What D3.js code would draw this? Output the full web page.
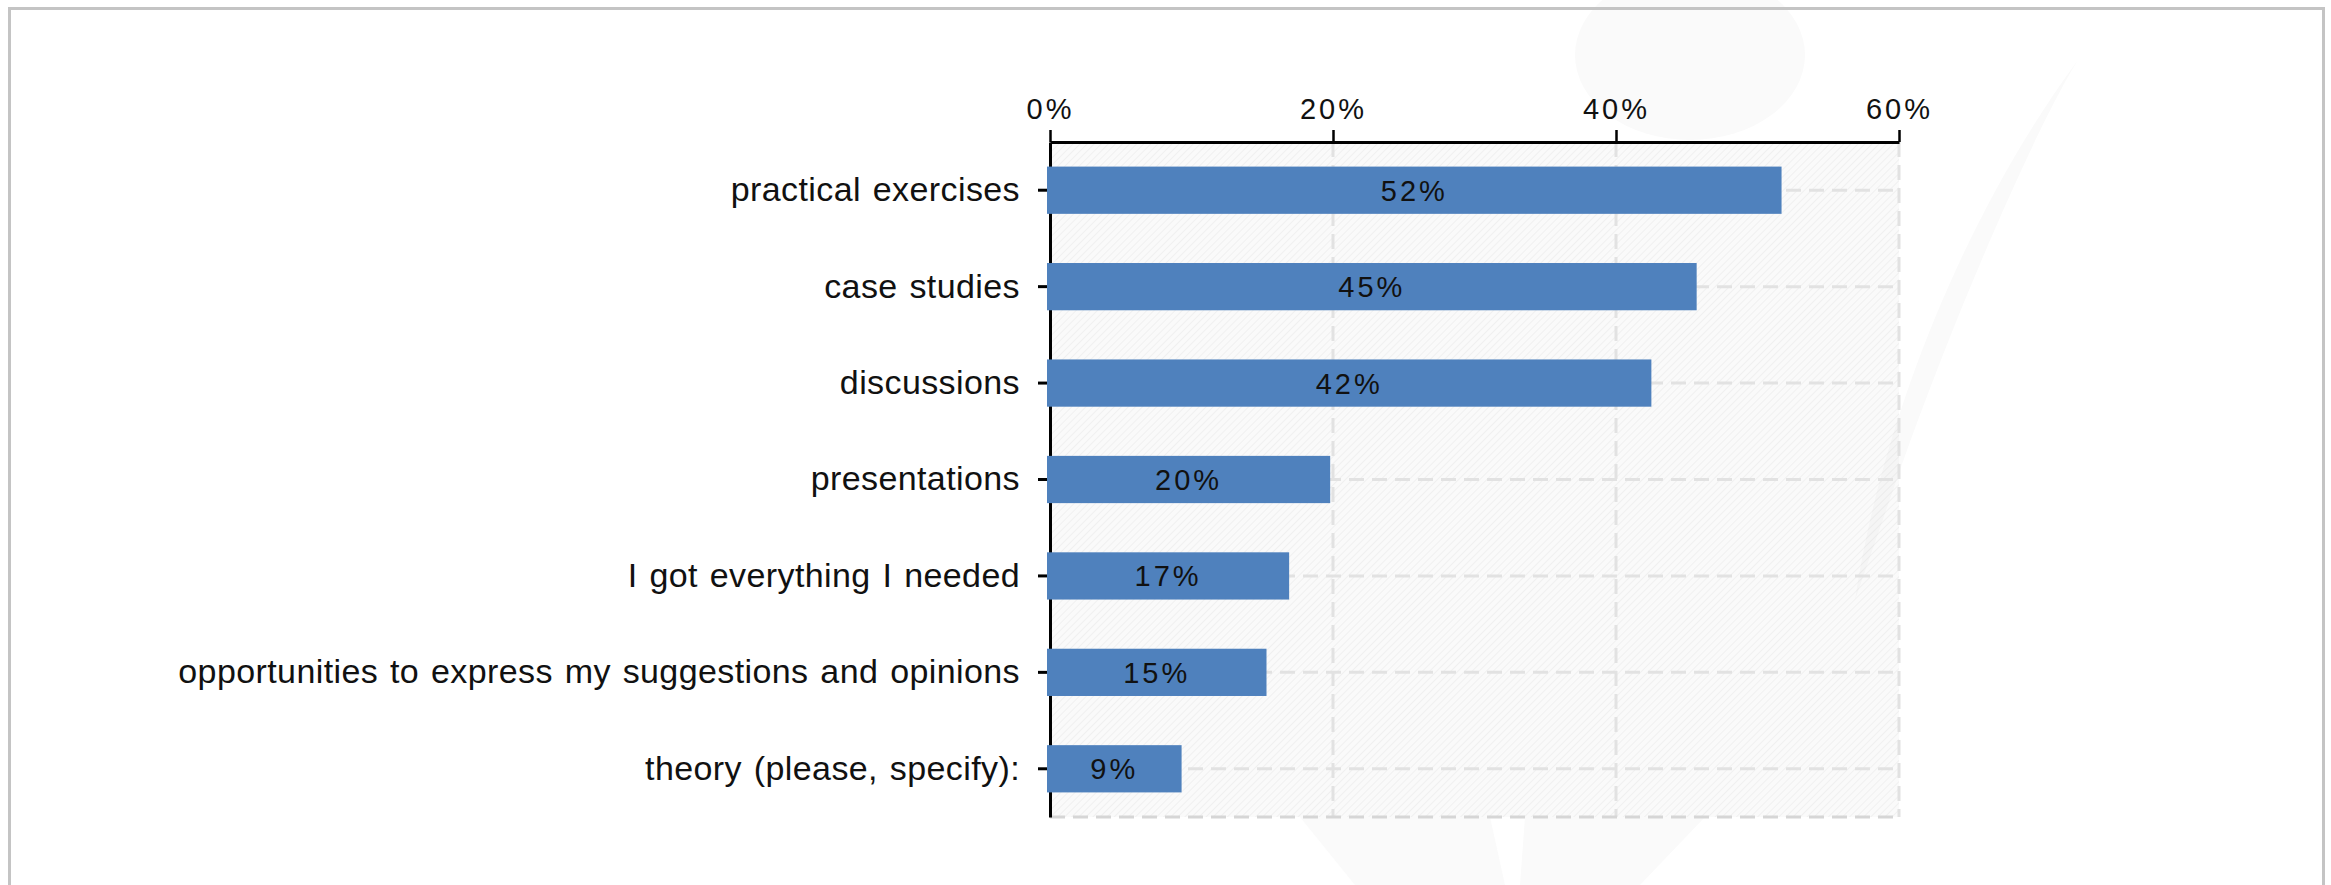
<!DOCTYPE html>
<html>
<head>
<meta charset="utf-8">
<script src="https://cdn.jsdelivr.net/npm/d3@7"></script>
<style>
  html, body { margin: 0; padding: 0; background: #ffffff; }
  svg { display: block; }
</style>
</head>
<body>
<script>
// ---- data ----
const categories = [
  "practical exercises",
  "case studies",
  "discussions",
  "presentations",
  "I got everything I needed",
  "opportunities to express my suggestions and opinions",
  "theory (please, specify):"
];
const values = [51.7, 45.7, 42.5, 19.8, 16.9, 15.3, 9.3];
const valueLabels = ["52%", "45%", "42%", "20%", "17%", "15%", "9%"];
const xTickValues = [0, 20, 40, 60];
const xTickLabels = ["0%", "20%", "40%", "60%"];

// ---- layout ----
const W = 2331, H = 885;
const plot = { left: 1050, right: 1899, top: 142, bottom: 817 };
const barColor = "#4f81bd";
const gridColor = "#e2e2e2";
const fontFamily = "'Liberation Sans', Arial, sans-serif";

const svg = d3.select("body").append("svg")
  .attr("width", W).attr("height", H);

const defs = svg.append("defs");
const pat = defs.append("pattern")
  .attr("id", "hatch")
  .attr("patternUnits", "userSpaceOnUse")
  .attr("width", 5).attr("height", 5)
  .attr("patternTransform", "rotate(45)");
pat.append("line")
  .attr("x1", 0).attr("y1", 0).attr("x2", 0).attr("y2", 5)
  .attr("stroke", "rgba(0,0,0,0.04)").attr("stroke-width", 2);

// very faint background watermark (decoration)
const wm = svg.append("g").attr("fill", "#fafafa");
wm.append("ellipse").attr("cx", 1690).attr("cy", 55).attr("rx", 115).attr("ry", 85);
wm.append("path").attr("d", "M2078,60 C2040,120 1960,300 1900,470 L1855,600 C1880,430 1960,220 2078,60 Z");
wm.append("path").attr("d", "M1300,817 L1355,885 L1505,885 L1490,817 Z");
wm.append("path").attr("d", "M1525,817 L1520,885 L1640,885 L1705,817 Z");

// outer frame
svg.append("rect")
  .attr("x", 9.5).attr("y", 8.5)
  .attr("width", 2314).attr("height", 920)
  .attr("fill", "none").attr("stroke", "#c4c4c4").attr("stroke-width", 3);

// scales
const x = d3.scaleLinear().domain([0, 60]).range([plot.left, plot.right]);
const y = d3.scaleBand().domain(categories)
  .range([plot.top, plot.bottom])
  .paddingInner(0.51).paddingOuter(0.255);

// plot background
svg.append("rect")
  .attr("x", plot.left).attr("y", plot.top)
  .attr("width", plot.right - plot.left).attr("height", plot.bottom - plot.top)
  .attr("fill", "rgba(0,0,0,0.018)");
svg.append("rect")
  .attr("x", plot.left).attr("y", plot.top)
  .attr("width", plot.right - plot.left).attr("height", plot.bottom - plot.top)
  .attr("fill", "url(#hatch)");

// grid
const grid = svg.append("g")
  .attr("stroke", gridColor).attr("stroke-width", 3)
  .attr("stroke-dasharray", "15,8").attr("fill", "none");
grid.selectAll("line.v").data(xTickValues.filter(d => d > 0)).join("line")
  .attr("class", "v")
  .attr("x1", d => x(d)).attr("x2", d => x(d))
  .attr("y1", plot.top).attr("y2", plot.bottom);
grid.selectAll("line.h").data(categories).join("line")
  .attr("class", "h")
  .attr("x1", x(0)).attr("x2", x(60))
  .attr("y1", d => y(d) + y.bandwidth() / 2).attr("y2", d => y(d) + y.bandwidth() / 2);
grid.append("line")
  .attr("x1", x(0)).attr("x2", x(60))
  .attr("y1", plot.bottom).attr("y2", plot.bottom)
  .attr("stroke", "#d6d6d6");

// top axis
const xAxis = d3.axisTop(x)
  .tickValues(xTickValues)
  .tickFormat((d, i) => xTickLabels[i])
  .tickSizeInner(12).tickSizeOuter(0).tickPadding(11);
const gx = svg.append("g")
  .attr("transform", `translate(0,${plot.top})`)
  .call(xAxis);
gx.select(".domain").attr("stroke", "#000").attr("stroke-width", 3);
gx.selectAll(".tick line").attr("stroke", "#000").attr("stroke-width", 2.5);
gx.selectAll(".tick text")
  .attr("fill", "#111")
  .style("font-family", fontFamily)
  .style("font-size", "29px")
  .style("letter-spacing", "3px");

// left axis
const yAxis = d3.axisLeft(y).tickSizeInner(12).tickSizeOuter(0).tickPadding(18);
const gy = svg.append("g")
  .attr("transform", `translate(${plot.left},0)`)
  .call(yAxis);
gy.select(".domain").attr("stroke", "#000").attr("stroke-width", 3);
gy.selectAll(".tick line").attr("stroke", "#000").attr("stroke-width", 3);
gy.selectAll(".tick text")
  .attr("fill", "#111")
  .style("font-family", fontFamily)
  .style("font-size", "34px")
  .style("letter-spacing", "0.4px")
  .style("word-spacing", "2px");

// bars
svg.append("g").selectAll("rect").data(values).join("rect")
  .attr("x", x(0) - 3)
  .attr("y", (d, i) => y(categories[i]))
  .attr("width", d => x(d) - x(0) + 3)
  .attr("height", y.bandwidth())
  .attr("fill", barColor);

// value labels
svg.append("g").selectAll("text").data(values).join("text")
  .attr("x", d => (x(0) - 3 + x(d)) / 2)
  .attr("y", (d, i) => y(categories[i]) + y.bandwidth() / 2)
  .attr("dy", "0.36em")
  .attr("text-anchor", "middle")
  .attr("fill", "#111")
  .style("font-family", fontFamily)
  .style("font-size", "29px")
  .style("letter-spacing", "3px")
  .text((d, i) => valueLabels[i]);
</script>
</body>
</html>
